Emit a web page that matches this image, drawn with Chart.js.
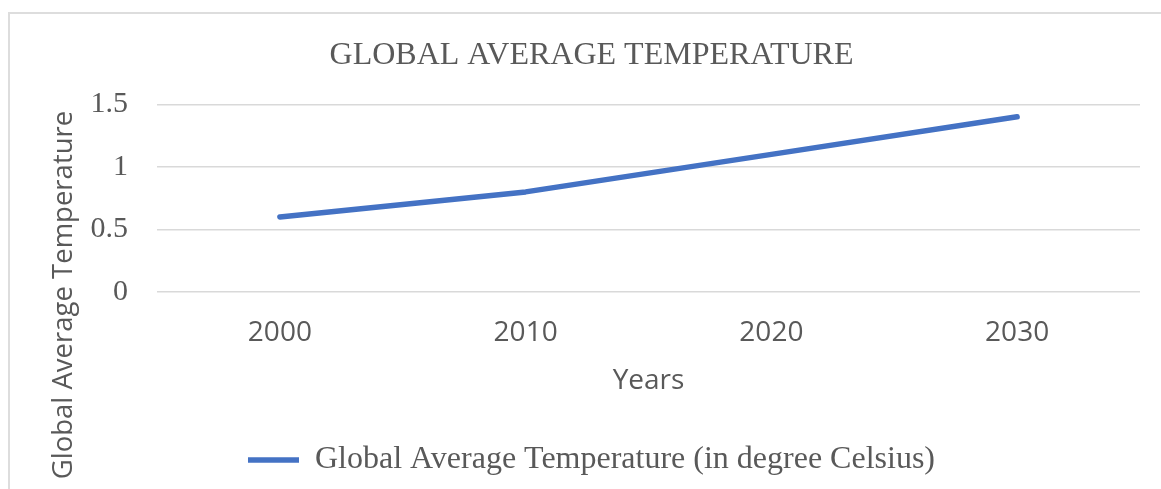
<!DOCTYPE html>
<html>
<head>
<meta charset="utf-8">
<script src="https://cdn.jsdelivr.net/npm/chart.js@4/dist/chart.umd.min.js"></script>
<style>
  html, body { margin: 0; padding: 0; background: #ffffff; overflow: hidden; }
  #wrap { position: relative; width: 1161px; height: 489px; }
  #frame {
    position: absolute; left: 8px; top: 12px; width: 1200px; height: 520px;
    border: 2px solid #dddddd; box-sizing: border-box;
  }
  #chart { position: absolute; left: 0; top: 0; }
</style>
</head>
<body>
<div id="wrap">
  <div id="frame"></div>
  <canvas id="chart" width="1161" height="489"></canvas>
</div>
<script>
// Chart data
const years = ['2000', '2010', '2020', '2030'];
const temperatures = [0.6, 0.8, 1.1, 1.4];
const yTicks = [0, 0.5, 1, 1.5];
const yTickLabels = ['0', '0.5', '1', '1.5'];

const seriesLabel = 'Global Average Temperature (in degree Celsius)';
const chartTitle = 'GLOBAL AVERAGE TEMPERATURE';
const xTitle = 'Years';
const yTitle = 'Global Average Temperature';

const TEXT = '#595959';
const SERIF = '"Liberation Serif", "Times New Roman", serif';
const SANS = '"Open Sans", "Liberation Sans", sans-serif';

// Vertical axis title, placed along the left edge of the frame
const yTitlePlugin = {
  id: 'yTitle',
  afterDraw(chart) {
    const ctx = chart.ctx;
    ctx.save();
    ctx.translate(71.5, 295);
    ctx.rotate(-Math.PI / 2);
    ctx.font = '27.5px ' + SANS;
    ctx.fillStyle = TEXT;
    ctx.textAlign = 'center';
    ctx.textBaseline = 'alphabetic';
    ctx.fillText(yTitle, 0, 0);
    ctx.restore();
  }
};

new Chart(document.getElementById('chart'), {
  type: 'line',
  data: {
    labels: years,
    datasets: [{
      label: seriesLabel,
      data: temperatures,
      borderColor: '#4472C4',
      backgroundColor: '#4472C4',
      borderWidth: 5.5,
      borderCapStyle: 'round',
      borderJoinStyle: 'round',
      pointRadius: 0,
      pointHoverRadius: 0,
      tension: 0,
      fill: false
    }]
  },
  options: {
    responsive: false,
    animation: false,
    events: [],
    layout: { padding: { top: 0, left: 43, right: 21, bottom: 3 } },
    plugins: {
      tooltip: { enabled: false },
      title: {
        display: true,
        text: chartTitle,
        color: TEXT,
        font: { family: SERIF, size: 32, weight: 'normal' },
        padding: { top: 36, bottom: 29.9 }
      },
      legend: {
        display: true,
        position: 'bottom',
        labels: {
          color: TEXT,
          font: { family: SERIF, size: 32 },
          usePointStyle: true,
          pointStyle: 'line',
          pointStyleWidth: 51,
          padding: 10
        }
      }
    },
    scales: {
      x: {
        offset: true,
        grid: { display: false, drawTicks: false },
        border: { display: false },
        ticks: {
          color: TEXT,
          font: { family: SANS, size: 28 },
          padding: 24,
          maxRotation: 0
        },
        title: {
          display: true,
          text: xTitle,
          color: TEXT,
          font: { family: SANS, size: 28 },
          padding: { top: 0, bottom: 36.5 }
        },
        afterFit(scale) { scale.height = 142; }
      },
      y: {
        min: yTicks[0],
        max: yTicks[yTicks.length - 1],
        afterBuildTicks(scale) {
          scale.ticks = yTicks.map(v => ({ value: v }));
        },
        grid: { color: '#d9d9d9', lineWidth: 1.5, drawTicks: false },
        border: { display: false },
        ticks: {
          color: TEXT,
          font: { family: SERIF, size: 30 },
          padding: 29,
          callback(value) {
            const i = yTicks.indexOf(value);
            return i >= 0 ? yTickLabels[i] : '';
          }
        },
        afterFit(scale) { scale.width = 114; }
      }
    }
  },
  plugins: [yTitlePlugin]
});
</script>
</body>
</html>
